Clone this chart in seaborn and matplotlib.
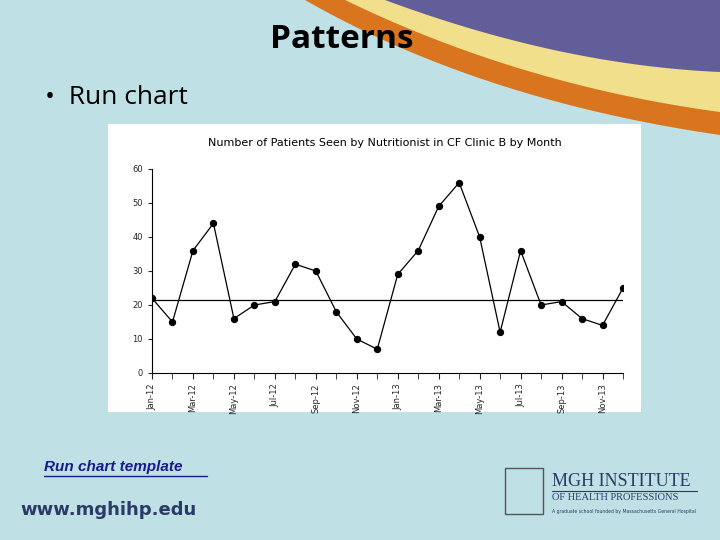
import numpy as np
import pandas as pd
import seaborn as sns
from matplotlib import pyplot as plt
from matplotlib.patches import Polygon, Rectangle

months = ["Jan-12", "Feb-12", "Mar-12", "Apr-12", "May-12", "Jun-12", "Jul-12", "Aug-12",
          "Sep-12", "Oct-12", "Nov-12", "Dec-12", "Jan-13", "Feb-13", "Mar-13", "Apr-13",
          "May-13", "Jun-13", "Jul-13", "Aug-13", "Sep-13", "Oct-13", "Nov-13", "Dec-13"]
patients = [22, 15, 36, 44, 16, 20, 21, 32, 30, 18, 10, 7,
            29, 36, 49, 56, 40, 12, 36, 20, 21, 16, 14, 25]
median_line = 21.5

df = pd.DataFrame({"idx": range(len(months)), "month": months, "patients": patients})

sns.set_style("white")
plt.rcParams['font.family'] = ['DejaVu Sans']

W, H = 720, 540
fig = plt.figure(figsize=(7.2, 5.4), dpi=100)
fig.patch.set_facecolor("#bfe0e5")

# slide background in pixel coordinates
bg = fig.add_axes([0, 0, 1, 1])
bg.set_xlim(0, W)
bg.set_ylim(H, 0)
bg.axis("off")

def bez(p0, p1, p2, n=60):
    t = np.linspace(0, 1, n)[:, None]
    return (1 - t) ** 2 * np.array(p0) + 2 * (1 - t) * t * np.array(p1) + t ** 2 * np.array(p2)

for p0, p1, p2, col in [((305, 0), (480, 100), (720, 135), "#d9741f"),
                        ((345, 0), (520, 85), (720, 112), "#f2df8c"),
                        ((385, 0), (560, 65), (720, 72), "#625e9a")]:
    pts = np.vstack([bez(p0, p1, p2), [[720, 0]]])
    bg.add_patch(Polygon(pts, closed=True, color=col, lw=0))

bg.add_patch(Rectangle((108, 124), 533, 288, color="white", lw=0))
bg.text(342, 40, "Patterns", fontsize=24, fontweight="bold", ha="center", va="center",
        color="black", family=["Open Sans", "DejaVu Sans"])
bg.text(45, 97, "•  Run chart", fontsize=19, ha="left", va="center", color="black",
        family=["Open Sans", "DejaVu Sans"])
bg.text(44, 467, "Run chart template", fontsize=11, fontweight="bold", style="italic",
        color="#1a1a8c", ha="left", va="center", family=["Liberation Sans"])
bg.plot([44, 207], [476, 476], color="#1a1a8c", lw=1)
bg.text(20, 510, "www.mghihp.edu", fontsize=13, fontweight="bold", color="#2b3a67",
        ha="left", va="center")
bg.text(552, 481, "MGH INSTITUTE", fontsize=13, color="#2b3a67", ha="left", va="center",
        family=["Liberation Serif"])
bg.plot([552, 697], [491, 491], color="#2b3a67", lw=0.8)
bg.text(552, 498, "OF HEALTH PROFESSIONS", fontsize=7.5, color="#2b3a67", ha="left",
        va="center", family=["Liberation Serif"])
bg.text(552, 511, "A graduate school founded by Massachusetts General Hospital",
        fontsize=3.3, color="#2b3a67", ha="left", va="center")
bg.add_patch(Rectangle((505, 468), 38, 46, fc="none", ec="#555555", lw=1))
bg.text(385, 143, "Number of Patients Seen by Nutritionist in CF Clinic B by Month",
        fontsize=8, ha="center", va="center", color="black")

# run chart
ax = fig.add_axes([152 / W, 1 - 373 / H, (623 - 152) / W, (373 - 169) / H])
ax.set_facecolor("white")
sns.lineplot(data=df, x="idx", y="patients", ax=ax, color="black", lw=0.9,
             marker="o", markersize=4.5, markeredgecolor="black")
ax.axhline(median_line, color="black", lw=0.9)
ax.set_xlim(0, len(months) - 1)
ax.set_ylim(0, 60)
ax.set_yticks(range(0, 61, 10))
ax.set_xticks(range(0, len(months), 2))
ax.set_xticklabels(months[::2], rotation=90, fontsize=6)
ax.set_xticks(range(len(months)), minor=True)
ax.tick_params(axis="y", labelsize=6, length=3, direction="out", left=True)
ax.tick_params(axis="x", which="both", length=4, direction="out", bottom=True)
ax.set_xlabel("")
ax.set_ylabel("")
for s in ["top", "right"]:
    ax.spines[s].set_visible(False)
for s in ["left", "bottom"]:
    ax.spines[s].set_color("black")
    ax.spines[s].set_linewidth(0.8)

fig.savefig("out.png", dpi=100, facecolor=fig.get_facecolor())
